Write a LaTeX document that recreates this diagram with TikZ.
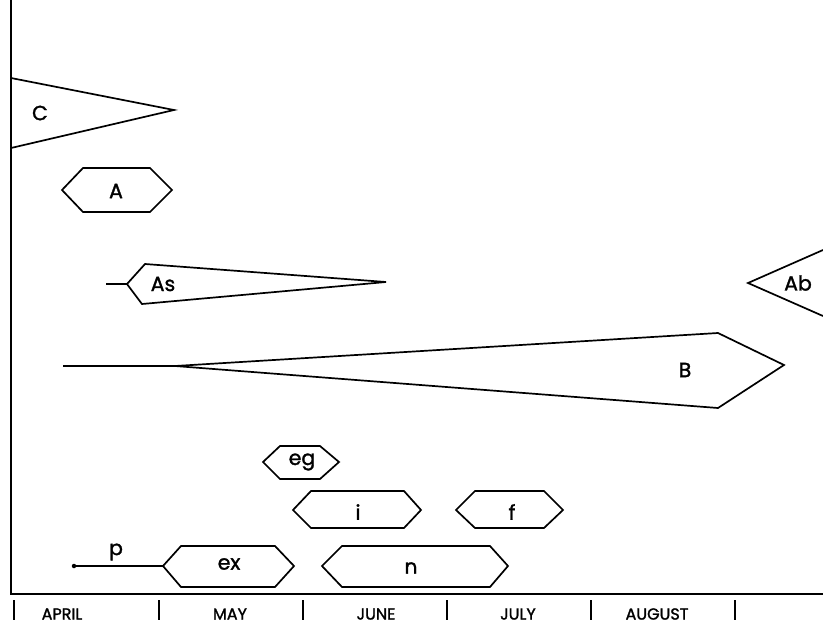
\documentclass[tikz,border=0pt]{standalone}
\usepackage{fontspec}
\setmainfont{Poppins}[FakeBold=1.5, BoldFont=Poppins]
\usetikzlibrary{calc}

\begin{document}
\begin{tikzpicture}[x=1pt, y=-1pt, line join=miter,
    form/.style={draw, line width=1.7pt},
    lbl/.style={font=\bfseries\fontsize{20.5}{22}\selectfont, inner sep=0pt},
    month/.style={font=\bfseries\fontsize{16}{18}\selectfont, inner sep=0pt},
    tick/.style={line width=1.7pt}]
      \useasboundingbox (0,0) rectangle (823,625);

      \coordinate (origin) at (11,594);
      \coordinate (ytop) at (11,0);
      \coordinate (xend) at (823,594);
      \draw[line width=2.6pt] (ytop) -- (origin) -- (xend);

      \draw[tick] (14,600) -- (14,620);
      \draw[tick] (159,600) -- (159,620);
      \draw[tick] (303,600) -- (303,620);
      \draw[tick] (447,600) -- (447,620);
      \draw[tick] (591,600) -- (591,620);
      \draw[tick] (735,600) -- (735,620);
      \node[month] (apr) at (62,614) {APRIL};
      \node[month] (may) at (230,614) {MAY};
      \node[month] (jun) at (376,614) {JUNE};
      \node[month] (jul) at (518,614) {JULY};
      \node[month] (aug) at (657,614) {AUGUST};

      \draw[form] (11,78) -- (174,110) -- (11,148);
      \node[lbl] (C) at (40,113) {C};

      \draw[form] (62,190) -- (83,168) -- (150,168) -- (172,190) -- (150,212) -- (83,212) -- cycle;
      \node[lbl] (A) at (116,191) {A};

      \draw[form] (106,284) -- (127,284);
      \draw[form] (127,284) -- (145,264) -- (386,282) -- (142,304) -- cycle;
      \node[lbl] (As) at (163,284) {As};

      \draw[form] (823,250) -- (748,283) -- (823,316);
      \node[lbl] (Ab) at (798,283) {Ab};

      \draw[form] (63,366) -- (175,366);
      \draw[form] (175,366) -- (718,333) -- (784,365) -- (718,408) -- cycle;
      \node[lbl] (B) at (685,370) {B};

      \draw[form] (263,462) -- (280,446) -- (320,446) -- (339,462) -- (320,479) -- (280,479) -- cycle;
      \node[lbl] (eg) at (302,462) {eg};

      \draw[form] (293,510) -- (311,491) -- (404,491) -- (421,510) -- (404,528) -- (311,528) -- cycle;
      \node[lbl] (i) at (358,512) {i};

      \draw[form] (456,510) -- (475,491) -- (544,491) -- (563,510) -- (544,528) -- (475,528) -- cycle;
      \node[lbl] (f) at (512,512) {f};

      \coordinate (exL) at (163,566);
      \draw[form] (exL) -- (181,546) -- (275,546) -- (294,566) -- (275,587) -- (181,587) -- cycle;
      \node[lbl] (ex) at (229,564) {ex};

      \draw[form] (322,566) -- (342,546) -- (490,546) -- (508,566) -- (490,587) -- (342,587) -- cycle;
      \node[lbl] (n) at (411,568) {n};

      \node[circle, fill, inner sep=0pt, minimum size=4.5pt] (pdot) at (74,566) {};
      \draw[form] (pdot) -- (exL);
      \node[lbl] (p) at (116,552) {p};
\end{tikzpicture}
\end{document}
